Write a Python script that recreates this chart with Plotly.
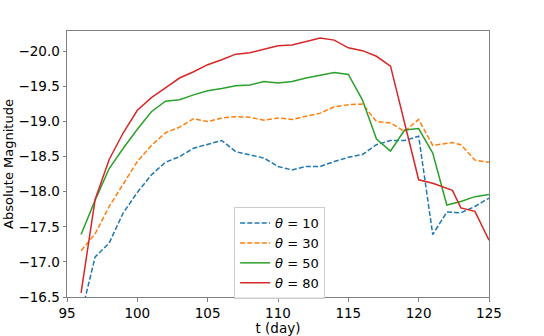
import plotly.graph_objects as go

t10 = list(range(96, 126))
m10 = [-16.25, -17.07, -17.27, -17.70, -17.99, -18.24, -18.42, -18.50, -18.62, -18.68,
       -18.73, -18.57, -18.53, -18.48, -18.36, -18.31, -18.36, -18.36, -18.43, -18.49,
       -18.53, -18.67, -18.73, -18.73, -18.79, -17.39, -17.71, -17.70, -17.79, -17.91]

t30 = list(range(96, 122)) + [122.4, 123, 124, 125]
m30 = [-17.16, -17.40, -17.79, -18.12, -18.43, -18.66, -18.84, -18.92, -19.04, -19.00,
       -19.05, -19.07, -19.06, -19.02, -19.05, -19.03, -19.08, -19.12, -19.21, -19.24,
       -19.25, -19.00, -18.98, -18.86, -19.03, -18.66, -18.70, -18.67, -18.45, -18.42]

t50 = list(range(96, 126))
m50 = [-17.39, -17.88, -18.33, -18.62, -18.89, -19.14, -19.29, -19.31, -19.38, -19.44,
       -19.47, -19.51, -19.52, -19.57, -19.55, -19.57, -19.62, -19.66, -19.70, -19.67,
       -19.31, -18.75, -18.58, -18.88, -18.90, -18.55, -17.81, -17.86, -17.93, -17.96]

t80 = list(range(96, 122)) + [122.4, 123, 124, 125]
m80 = [-16.56, -17.89, -18.46, -18.84, -19.16, -19.34, -19.48, -19.62, -19.71, -19.81,
       -19.88, -19.96, -19.98, -20.03, -20.08, -20.09, -20.14, -20.19, -20.16, -20.05,
       -20.01, -19.93, -19.79, -18.97, -18.17, -18.12, -18.02, -17.77, -17.72, -17.31]

labels = ["<i>θ</i> = 10", "<i>θ</i> = 30", "<i>θ</i> = 50", "<i>θ</i> = 80"]
colors = ["#1f77b4", "#ff7f0e", "#2ca02c", "#d62728"]
dashes = ["5px,2.2px", "5px,2.2px", "solid", "solid"]
xs = [t10, t30, t50, t80]
ys = [m10, m30, m50, m80]

FONT = "DejaVu Sans"

fig = go.Figure()
for x, y, lab, c, d in zip(xs, ys, labels, colors, dashes):
    fig.add_trace(go.Scatter(x=x, y=y, mode="lines", name=lab,
                             line=dict(color=c, width=1.5, dash=d)))

axis_common = dict(showline=True, linecolor="#808080", linewidth=1, mirror=True,
                   ticks="outside", ticklen=3.5, tickcolor="#808080",
                   showgrid=False, zeroline=False, automargin=False,
                   tickfont=dict(family=FONT, size=13.5, color="black"))

fig.update_xaxes(range=[95, 125], tickvals=[95, 100, 105, 110, 115, 120, 125],
                 title=dict(text="t (day)", font=dict(family=FONT, size=13.5, color="black"),
                            standoff=2),
                 **axis_common)
fig.update_yaxes(range=[-16.5, -20.29], tickvals=[-20.0, -19.5, -19.0, -18.5, -18.0, -17.5, -17.0, -16.5],
                 tickformat=".1f",
                 title=dict(text="Absolute Magnitude", font=dict(family=FONT, size=13, color="black"),
                            standoff=1),
                 **axis_common)

fig.update_layout(
    width=544, height=336,
    margin=dict(l=67, r=55, t=31, b=39),
    plot_bgcolor="white", paper_bgcolor="white",
    font=dict(family=FONT, size=13, color="black"),
    legend=dict(x=0.396, y=0.338, xanchor="left", yanchor="top",
                bgcolor="rgba(255,255,255,0.8)", bordercolor="#cccccc", borderwidth=1,
                font=dict(family=FONT, size=13, color="black"),
                itemwidth=30, tracegroupgap=0),
    showlegend=True,
)

fig.write_html("out.html", config={"displayModeBar": False},
               post_script="document.body.style.margin='0';document.body.style.overflow='hidden';")
